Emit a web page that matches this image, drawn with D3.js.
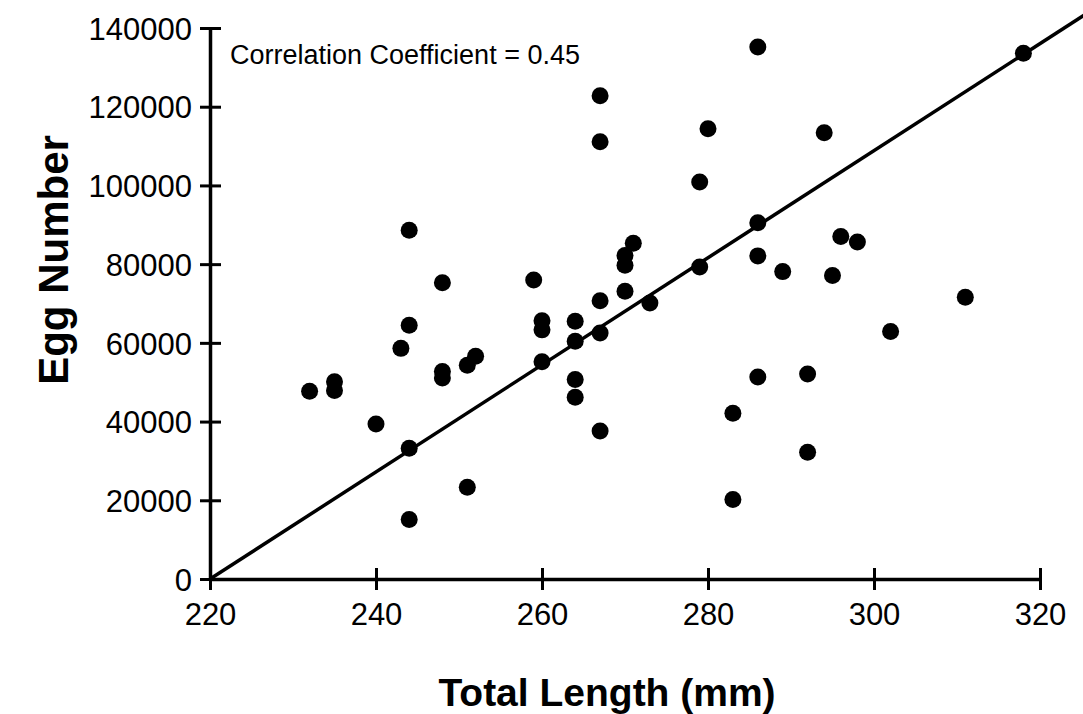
<!DOCTYPE html>
<html>
<head>
<meta charset="utf-8">
<script src="https://cdn.jsdelivr.net/npm/d3@7"></script>
<style>
	body { margin: 0; background: #fff; }
	svg { display: block; }
	.tick text { font-family: "Liberation Sans", Arial, sans-serif; font-size: 31px; fill: #000; }
	.axis-title { font-family: "Liberation Sans", Arial, sans-serif; font-size: 39px; font-weight: bold; }
	.note { font-family: "Liberation Sans", Arial, sans-serif; font-size: 27px; }
</style>
</head>
<body>
<div id="chart"></div>
<script>
// total length (mm) and egg number for each fish
var lengths = [232, 235, 235, 240, 243, 244, 244, 244, 244, 248, 248, 248, 251, 251, 252,
	259, 260, 260, 260, 264, 264, 264, 264, 267, 267, 267, 267, 267, 270, 270, 270, 271, 273,
	279, 279, 280, 283, 283, 286, 286, 286, 286, 289, 292, 292, 294, 295, 296, 298, 302, 311, 318];
var eggs = [47700, 50100, 47900, 39400, 58600, 64500, 88600, 33200, 15100, 75300, 52700, 51100, 23300, 54300, 56600,
	76000, 65600, 63300, 55200, 65500, 60400, 50700, 46200, 70700, 62500, 37600, 122800, 111100, 82200, 79700, 73100, 85300, 70100,
	100900, 79300, 114400, 42100, 20200, 90500, 82100, 51300, 135200, 78100, 52100, 32200, 113400, 77100, 87000, 85600, 62900, 71600, 133600];

// fitted line, in data units
var fitX = [220, 326];
var fitY = [0, 144200];

var xTicks = [220, 240, 260, 280, 300, 320];
var yTicks = [0, 20000, 40000, 60000, 80000, 100000, 120000, 140000];

var width = 1083,
	height = 714;

var xScale = d3.scaleLinear().domain([220, 320]).range([210, 1040]),
	yScale = d3.scaleLinear().domain([0, 140000]).range([579, 28]);

var svg = d3.select('#chart').append('svg')
	.attr('width', width)
	.attr('height', height);

var xAxis = d3.axisBottom(xScale).tickValues(xTicks).tickFormat(d3.format('d')).tickSizeOuter(0);
var yAxis = d3.axisLeft(yScale).tickValues(yTicks).tickFormat(d3.format('d')).tickSizeOuter(0);

var gx = svg.append('g')
	.attr('class', 'axis x')
	.attr('transform', 'translate(0,' + yScale(0) + ')')
	.call(xAxis);

var gy = svg.append('g')
	.attr('class', 'axis y')
	.attr('transform', 'translate(' + xScale(220) + ',0)')
	.call(yAxis);

// ticks cross the axis line
gx.selectAll('.tick line').attr('y1', -11).attr('y2', 11).attr('stroke', '#000').attr('stroke-width', 3);
gy.selectAll('.tick line').attr('x1', -10).attr('x2', 11).attr('stroke', '#000').attr('stroke-width', 3);
gx.select('.domain').attr('stroke', '#000').attr('stroke-width', 3.5);
gy.select('.domain').attr('stroke', '#000').attr('stroke-width', 3.5);

gx.selectAll('.tick text').attr('y', 46).attr('dy', 0);
gy.selectAll('.tick text').attr('x', -18).attr('dy', '0.36em');

// regression line
var line = d3.line()
	.x(function(d) { return xScale(d[0]); })
	.y(function(d) { return yScale(d[1]); });

svg.append('path')
	.datum(d3.zip(fitX, fitY))
	.attr('d', line)
	.attr('fill', 'none')
	.attr('stroke', '#000')
	.attr('stroke-width', 3.5);

svg.append('g')
	.selectAll('circle')
	.data(d3.zip(lengths, eggs))
	.enter().append('circle')
	.attr('cx', function(d) { return xScale(d[0]); })
	.attr('cy', function(d) { return yScale(d[1]); })
	.attr('r', 8.5)
	.attr('fill', '#000');

svg.append('text')
	.attr('class', 'note')
	.attr('x', 230)
	.attr('y', 64)
	.text('Correlation Coefficient = 0.45');

svg.append('text')
	.attr('class', 'axis-title')
	.attr('text-anchor', 'middle')
	.attr('x', 607)
	.attr('y', 706)
	.text('Total Length (mm)');

svg.append('text')
	.attr('class', 'axis-title')
	.attr('text-anchor', 'middle')
	.attr('transform', 'translate(68,260) rotate(-90)')
	.style('font-size', '42px')
	.text('Egg Number');
</script>
</body>
</html>
